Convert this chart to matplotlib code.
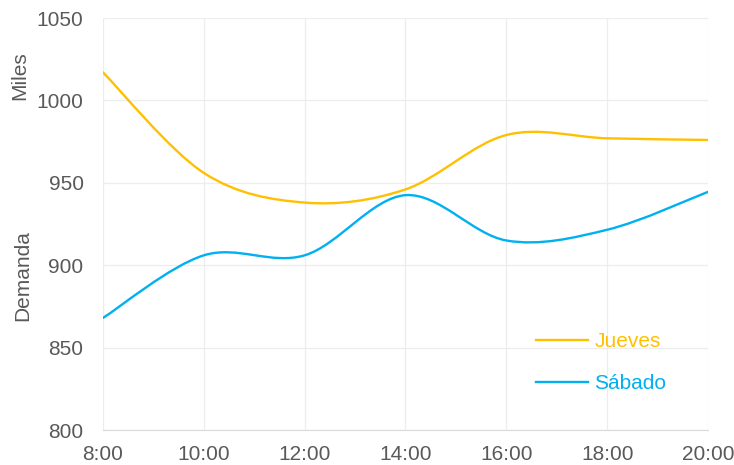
import matplotlib
matplotlib.use("Agg")
import matplotlib.pyplot as plt
from matplotlib.path import Path
from matplotlib.patches import PathPatch
from matplotlib.lines import Line2D

horas = [8, 10, 12, 14, 16, 18, 20]
etiquetas = ['8:00', '10:00', '12:00', '14:00', '16:00', '18:00', '20:00']
jueves = [1017, 956, 938, 946, 979, 977, 976]
sabado = [868, 906, 906, 942.5, 915, 921.5, 944.5]

c_jueves = '#FFC000'
c_sabado = '#00B0F0'
gris = '#595959'

plt.rcParams['font.family'] = ['Liberation Sans', 'DejaVu Sans']


def curva_suave(x, y):
    # Bezier segments with Catmull-Rom style control points (Excel "smoothed line")
    n = len(x)
    pts = list(zip(x, y))
    verts = [pts[0]]
    codes = [Path.MOVETO]
    for i in range(n - 1):
        p0 = pts[i - 1] if i > 0 else pts[i]
        p1 = pts[i]
        p2 = pts[i + 1]
        p3 = pts[i + 2] if i + 2 < n else pts[i + 1]
        c1 = (p1[0] + (p2[0] - p0[0]) / 6, p1[1] + (p2[1] - p0[1]) / 6)
        c2 = (p2[0] - (p3[0] - p1[0]) / 6, p2[1] - (p3[1] - p1[1]) / 6)
        verts += [c1, c2, p2]
        codes += [Path.CURVE4] * 3
    return Path(verts, codes)


fig = plt.figure(figsize=(7.34, 4.65), dpi=100)
ax = fig.add_axes([103 / 734, 1 - 430 / 465, 605 / 734, 412 / 465])

for serie, color in [(jueves, c_jueves), (sabado, c_sabado)]:
    ax.add_patch(PathPatch(curva_suave(horas, serie), facecolor='none',
                           edgecolor=color, lw=1.7, capstyle='round', zorder=3))

ax.set_xlim(8, 20)
ax.set_ylim(800, 1050)
ax.set_xticks(horas)
ax.set_xticklabels(etiquetas)
ax.set_yticks(range(800, 1051, 50))

ax.grid(True, color='#EDEDED', lw=0.9)
ax.set_axisbelow(True)
for lado in ['top', 'right', 'left']:
    ax.spines[lado].set_visible(False)
ax.spines['bottom'].set_color('#D9D9D9')
ax.tick_params(length=0, labelsize=15, labelcolor=gris)
ax.tick_params(axis='y', pad=14)
ax.tick_params(axis='x', pad=10.5)

fig.text(20 / 734, 1 - 76 / 465, 'Miles', rotation=90, ha='center', va='center',
         fontsize=15, color=gris)
fig.text(23 / 734, 1 - 276 / 465, 'Demanda', rotation=90, ha='center', va='center',
         fontsize=15, color=gris)

handles = [Line2D([], [], color=c_jueves, lw=1.7), Line2D([], [], color=c_sabado, lw=1.7)]
ax.legend(handles, ['Jueves', 'Sábado'], frameon=False, fontsize=15,
          labelcolor=[c_jueves, c_sabado], handlelength=2.5, handletextpad=0.3,
          labelspacing=1.1, loc='upper left', bbox_to_anchor=(536 / 734, 1 - 332 / 465),
          bbox_transform=fig.transFigure, borderaxespad=0, borderpad=0)

fig.savefig('out.png', dpi=100)
